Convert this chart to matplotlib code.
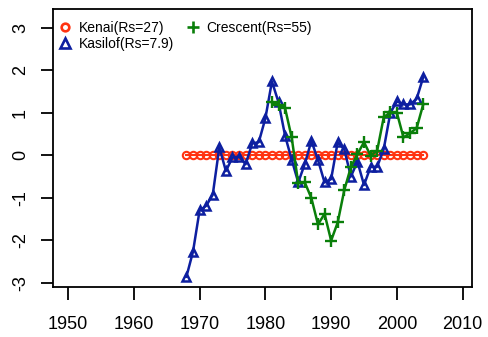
import matplotlib
matplotlib.use("Agg")
import matplotlib.pyplot as plt
from matplotlib.lines import Line2D

plt.rcParams['font.family'] = ['Liberation Sans', 'DejaVu Sans']

kenai_years = list(range(1968, 2005))
kenai_vals = [0.0] * len(kenai_years)

kasilof_years = list(range(1968, 2005))
kasilof_vals = [-2.86, -2.27, -1.30, -1.19, -0.93, 0.19, -0.37, -0.05, -0.03, -0.21,
                0.28, 0.31, 0.87, 1.74, 1.25, 0.46, -0.10, -0.64, -0.20, 0.34,
                -0.11, -0.64, -0.56, 0.31, 0.14, -0.50, -0.15, -0.70, -0.27, -0.27,
                0.15, 1.00, 1.27, 1.20, 1.20, 1.33, 1.84]

crescent_years = list(range(1981, 2005))
crescent_vals = [1.25, 1.19, 1.11, 0.42, -0.66, -0.64, -1.01, -1.63, -1.38, -2.01,
                 -1.58, -0.82, -0.28, 0.03, 0.31, -0.01, 0.11, 0.90, 1.01, 1.00,
                 0.42, 0.52, 0.64, 1.20]

series_labels = ['Kenai(Rs=27)', 'Kasilof(Rs=7.9)', 'Crescent(Rs=55)']
x_ticks = [1950, 1960, 1970, 1980, 1990, 2000, 2010]
y_ticks = [-3, -2, -1, 0, 1, 2, 3]

red = '#FF3311'
blue = '#0D1FA0'
green = '#0A7F0A'

fig = plt.figure(figsize=(4.88, 3.37), dpi=100)
ax = fig.add_axes([0.108, 0.1475, 0.8586, 0.8249])

ax.plot(kenai_years, kenai_vals, color=red, lw=1.5, marker='o', ms=5.3,
        mfc='none', mec=red, mew=1.5)
ax.plot(kasilof_years, kasilof_vals, color=blue, lw=1.8, marker='^', ms=6.2,
        mfc='none', mec=blue, mew=1.8)
ax.plot(crescent_years, crescent_vals, color=green, lw=1.8, marker='+', ms=8.5,
        mec=green, mew=1.7)

ax.set_xlim(1947.67, 2011.37)
ax.set_ylim(-3.11, 3.44)
ax.set_xticks(x_ticks)
ax.set_yticks(y_ticks)
ax.set_xticklabels([str(v) for v in x_ticks], fontsize=13)
ax.set_yticklabels([str(v) for v in y_ticks], fontsize=13, rotation=90, va='center')
ax.tick_params(axis='both', direction='out', length=9, width=1.3, colors='black')
ax.tick_params(axis='x', pad=12)
ax.tick_params(axis='y', pad=8)
for s in ax.spines.values():
    s.set_linewidth(1.3)

h = [Line2D([], [], ls='none', marker='o', ms=5.5, mfc='none', mec=red, mew=1.9),
     Line2D([], [], ls='none', marker='^', ms=6.5, mfc='none', mec=blue, mew=1.9),
     Line2D([], [], ls='none', marker='+', ms=9, mec=green, mew=1.9)]
ax.legend(h, series_labels, ncol=2, loc='upper left', frameon=False, fontsize=10,
          handlelength=1.0, handletextpad=0.45, columnspacing=0.9,
          labelspacing=0.15, borderaxespad=0.0, borderpad=0.4,
          bbox_to_anchor=(0.0, 0.978))

fig.savefig('out.png', dpi=100)
